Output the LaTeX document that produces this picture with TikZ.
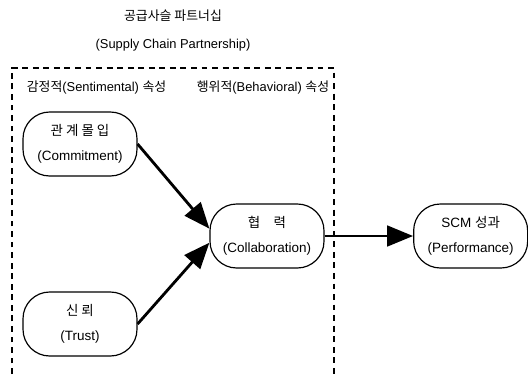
\documentclass[tikz,border=0pt]{standalone}
\usepackage{fontspec}
\setmainfont{Liberation Sans}
\newfontfamily\kr{Noto Sans CJK KR}
\usepackage{tikz}
\usetikzlibrary{arrows.meta}
\usetikzlibrary{positioning}

\begin{document}
\begin{tikzpicture}[
    factor/.style={rectangle, rounded corners=0.8cm, minimum width=3.42cm, minimum height=1.92cm, draw=black, line width=1pt, align=center, font=\fontsize{11.5}{21}\selectfont},
    flow/.style={line width=2.4pt, -{Triangle[length=0.78cm, width=0.62cm]}},
    label/.style={font=\fontsize{11}{14}\selectfont},
    group/.style={line width=1.3pt, dash pattern=on 5pt off 4pt}
]
    \useasboundingbox (0,0) rectangle (15.84,-11.22);

    \node [label] (title) at (5.19,-0.48) {\kr 공급사슬 파트너십};
    \node [label] (subtitle) at (5.19,-1.35) {(Supply Chain Partnership)};

    % dashed group frame (open at the bottom)
    \draw [group] (0.36,-11.22) -- (0.36,-2.04) -- (10.02,-2.04) -- (10.02,-11.22);

    \node [label, anchor=west] (sentimental) at (0.68,-2.64) {{\kr 감정적}(Sentimental) {\kr 속성}};
    \node [label, anchor=east] (behavioral) at (10.0,-2.64) {{\kr 행위적}(Behavioral) {\kr 속성}};

    \node [factor] (commitment) at (2.4,-4.32) {{\kr 관 계 몰 입}\\(Commitment)};
    \node [factor] (trust) at (2.4,-9.72) {{\kr 신 뢰}\\(Trust)};
    \node [factor] (collaboration) at (8.01,-7.08) {{\kr 협\quad 력}\\(Collaboration)};
    \node [factor] (performance) at (14.12,-7.08) {SCM {\kr 성과}\\(Performance)};

    \draw [flow] (commitment.east) -- ([yshift=0.22cm]collaboration.west);
    \draw [flow] (trust.east) -- ([yshift=-0.2cm]collaboration.west);
    \draw [flow] (collaboration) -- (performance);
\end{tikzpicture}
\end{document}
